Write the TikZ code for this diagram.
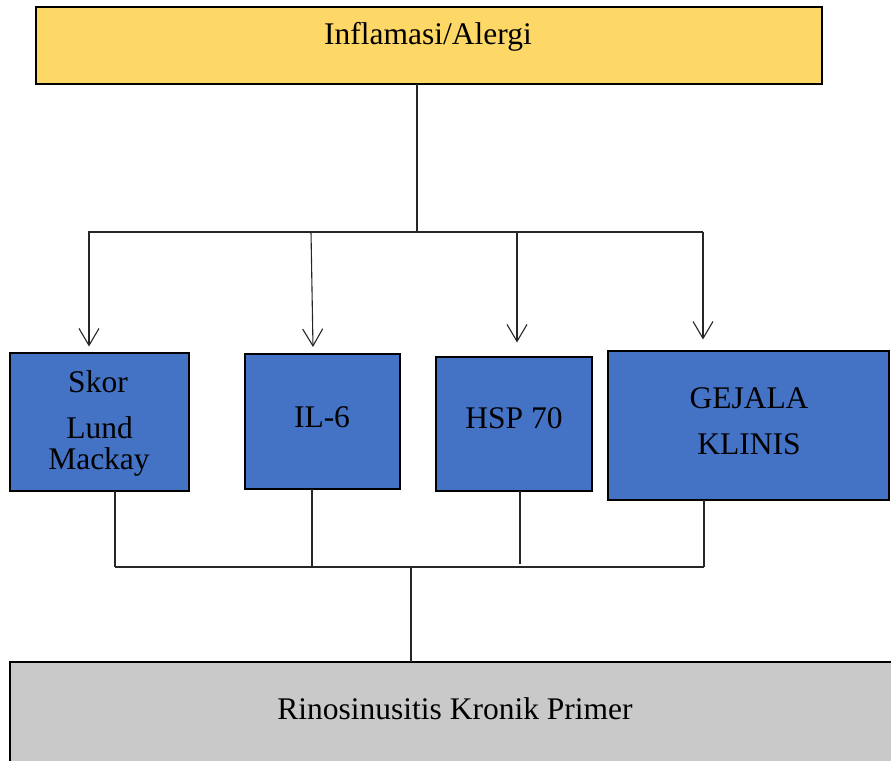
\documentclass[tikz,border=0pt]{standalone}
\usepackage{fontspec}
\setmainfont{Liberation Serif}
\usetikzlibrary{arrows.meta}
\definecolor{yel}{RGB}{254,216,102}
\definecolor{blu}{RGB}{68,114,196}
\definecolor{gry}{RGB}{201,201,201}
\begin{document}
\begin{tikzpicture}[x=1pt,y=-1pt,
  box/.style={draw=black, line width=2.5pt, inner sep=0pt, outer sep=0pt},
  lbl/.style={font=\fontsize{31.5}{34}\selectfont, inner sep=0pt, anchor=base},
  conn/.style={line width=1.1pt, draw=black!85},
  arr/.style={conn, -{Straight Barb[length=17pt,width=20pt,line width=1.1pt]}}]
\useasboundingbox (0,0) rectangle (891,760);
\clip (0,0) rectangle (891,760);
% boxes
\node[box, fill=yel, minimum width=786pt, minimum height=77pt] (top) at (429,45.5) {};
\node[box, fill=blu, minimum width=179pt, minimum height=138pt] (s1) at (99.5,422) {};
\node[box, fill=blu, minimum width=155pt, minimum height=135pt] (s2) at (322.5,421.5) {};
\node[box, fill=blu, minimum width=156pt, minimum height=134pt] (s3) at (514,424) {};
\node[box, fill=blu, minimum width=281pt, minimum height=149pt] (s4) at (748.5,425.5) {};
\node[box, fill=gry, minimum width=990pt, minimum height=138pt] (bot) at (505,731) {};
% texts
\node[lbl] (ttop) at (428,45) {Inflamasi/Alergi};
\node[lbl] (t1a) at (98,392) {Skor};
\node[lbl] (t1b) at (99.5,438) {Lund};
\node[lbl] (t1c) at (99,469) {Mackay};
\node[lbl] (t2) at (322,427) {IL-6};
\node[lbl] (t3) at (514,428) {HSP 70};
\node[lbl] (t4a) at (749,408) {GEJALA};
\node[lbl] (t4b) at (749,454) {KLINIS};
\node[lbl] (tbot) at (455,719) {Rinosinusitis Kronik Primer};
% upper connectors
\coordinate (tj) at (417,232);
\coordinate (bl) at (88,232);
\coordinate (br) at (703,232);
\coordinate (a1) at (89,232);
\coordinate (a2) at (311,232);
\coordinate (e2) at (313,347);
\coordinate (a3) at (517,232);
\coordinate (a4) at (703,232);
\draw[conn] (top.south -| tj) -- (tj);
\draw[conn] (bl) -- (br);
\draw[arr, shorten >=6.5pt] (a1) -- (a1 |- s1.north);
\draw[arr] (a2) -- (e2);
\draw[arr, shorten >=14.5pt] (a3) -- (a3 |- s3.north);
\draw[arr, shorten >=11.5pt] (a4) -- (a4 |- s4.north);
% lower connectors
\coordinate (j1) at (115,567);
\coordinate (j2) at (312,567);
\coordinate (j3) at (520,564);
\coordinate (j4) at (704,567);
\coordinate (bj) at (411,567);
\draw[conn] (s1.south -| j1) -- (j1);
\draw[conn] (s2.south -| j2) -- (j2);
\draw[conn] (s3.south -| j3) -- (j3);
\draw[conn] (s4.south -| j4) -- (j4);
\draw[conn] (j1) -- (j4);
\draw[conn] (bj) -- (bot.north -| bj);
\end{tikzpicture}
\end{document}
